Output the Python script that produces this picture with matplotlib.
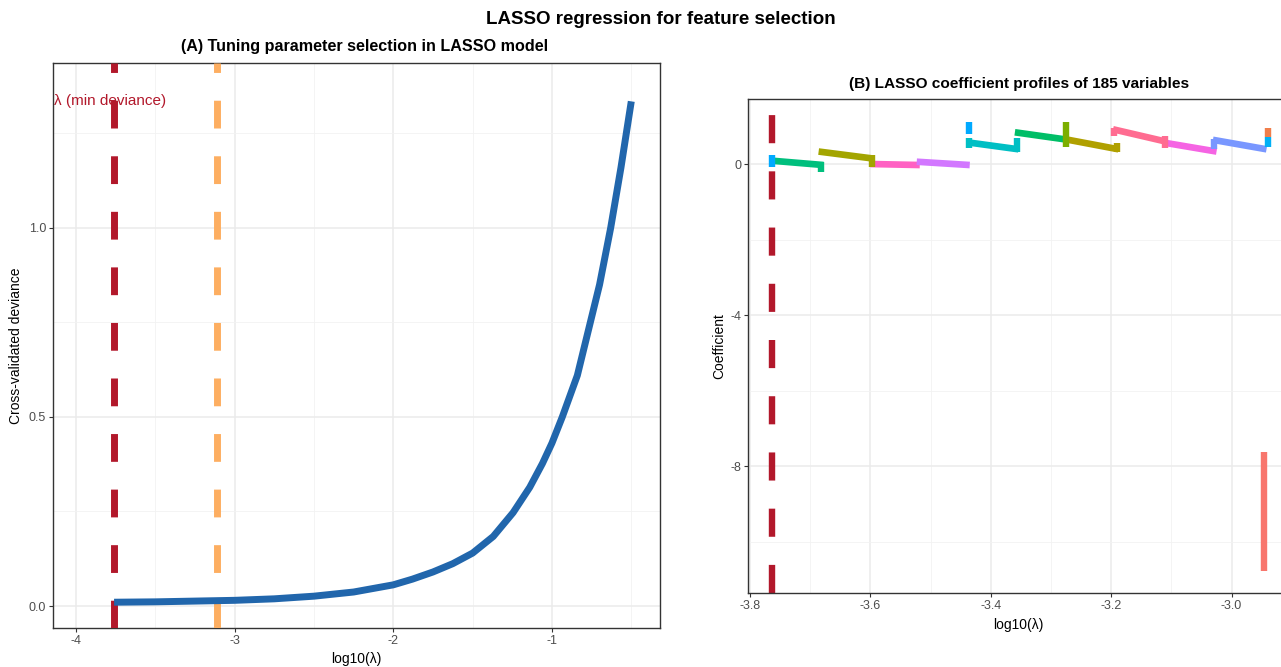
import matplotlib
matplotlib.use("Agg")
import matplotlib.pyplot as plt

plt.rcParams['font.family'] = ['Liberation Sans', 'DejaVu Sans']

W, H = 1281, 667

# ---------------- data ----------------
# Panel A: cross-validated deviance curve
cv_log_lambda = [-3.76, -3.5, -3.25, -3.0, -2.75, -2.5, -2.25, -2.0, -1.88, -1.75,
                 -1.625, -1.5, -1.37, -1.245, -1.14, -1.06, -1.0, -0.935, -0.84,
                 -0.77, -0.70, -0.63, -0.565, -0.5]
cv_deviance = [0.010, 0.011, 0.013, 0.015, 0.019, 0.026, 0.037, 0.056, 0.071, 0.090,
               0.112, 0.140, 0.184, 0.247, 0.314, 0.377, 0.431, 0.500, 0.610,
               0.730, 0.850, 1.000, 1.160, 1.335]
lambda_min_log = -3.763
lambda_1se_log = -3.11
label_min = "λ (min deviance)"

# Panel B: coefficient path pieces (sloped)
seg_x0 = [-3.764, -3.686, -3.600, -3.523, -3.437, -3.360, -3.271, -3.197, -3.114, -3.031]
seg_x1 = [-3.678, -3.598, -3.518, -3.435, -3.354, -3.271, -3.188, -3.108, -3.025, -2.942]
seg_y0 = [0.088, 0.33, 0.0, 0.06, 0.57, 0.84, 0.64, 0.92, 0.57, 0.64]
seg_y1 = [-0.027, 0.15, -0.027, -0.027, 0.39, 0.64, 0.39, 0.59, 0.33, 0.39]
seg_col = ['#00BF7D', '#A3A500', '#FF61C3', '#D277FF', '#00BFC4',
           '#00BE67', '#B0A000', '#FF6C91', '#F564E3', '#7997FF']

# Panel B: short vertical jumps
jump_x = [-3.764, -3.682, -3.598, -3.437, -3.437, -3.357, -3.275, -3.190,
          -3.195, -3.110, -3.029, -2.940, -2.940, -2.947]
jump_y0 = [0.24, 0.06, 0.24, 1.10, 0.68, 0.68, 1.12, 0.55, 0.95, 0.73, 0.65, 0.95, 0.71, -7.63]
jump_y1 = [-0.07, -0.20, -0.07, 0.80, 0.42, 0.33, 0.46, 0.33, 0.73, 0.42, 0.40, 0.71, 0.46, -10.78]
jump_col = ['#00A9FF', '#00BF7D', '#A3A500', '#00A9FF', '#00BFC4', '#00BFC4',
            '#7CAE00', '#B0A000', '#FF6C91', '#FF6C91', '#7997FF', '#F07E4B',
            '#00B0F6', '#F8766D']

a_xticks = [-4, -3, -2, -1]
a_xminor = [-3.5, -2.5, -1.5, -0.5]
a_yticks = [0.0, 0.5, 1.0]
a_yticklabels = ['0.0', '0.5', '1.0']
a_yminor = [0.25, 0.75, 1.25]

b_xticks = [-3.8, -3.6, -3.4, -3.2, -3.0]
b_xticklabels = ['-3.8', '-3.6', '-3.4', '-3.2', '-3.0']
b_xminor = [-3.7, -3.5, -3.3, -3.1, -2.9]
b_yticks = [0, -4, -8]
b_yticklabels = ['0', '-4', '-8']
b_yminor = [-2, -6, -10]

# ---------------- figure ----------------
fig = plt.figure(figsize=(W / 100, H / 100), dpi=100)
fig.patch.set_facecolor('white')


def px_axes(l, t, r, b):
    return fig.add_axes([l / W, 1 - b / H, (r - l) / W, (b - t) / H])


def style(ax, xt, xminor, yt, yminor):
    ax.set_facecolor('white')
    for s in ax.spines.values():
        s.set_color('#333333')
        s.set_linewidth(1.0)
    for v in xt:
        ax.axvline(v, color='#EBEBEB', lw=1.1, zorder=0)
    for v in xminor:
        ax.axvline(v, color='#F2F2F2', lw=0.6, zorder=0)
    for v in yt:
        ax.axhline(v, color='#EBEBEB', lw=1.1, zorder=0)
    for v in yminor:
        ax.axhline(v, color='#F2F2F2', lw=0.6, zorder=0)
    ax.tick_params(axis='both', colors='#333333', labelcolor='#4D4D4D',
                   labelsize=9, length=3, width=0.8, pad=2)


# Panel A
axA = px_axes(53, 63, 660, 628)
axA.set_xlim(-4.145, -0.319)
axA.set_ylim(-0.0582, 1.4365)
style(axA, a_xticks, a_xminor, a_yticks, a_yminor)
axA.set_xticks(a_xticks)
axA.set_xticklabels([str(v) for v in a_xticks])
axA.set_yticks(a_yticks)
axA.set_yticklabels(a_yticklabels)
axA.text(-3.785, 1.336, label_min, color='#B2182B', fontsize=11,
         ha='center', va='center', zorder=2, clip_on=True)
axA.axvline(lambda_min_log, color='#B2182B', lw=5, linestyle=(0, (4, 4)), zorder=3)
axA.axvline(lambda_1se_log, color='#FDAE61', lw=5, linestyle=(0, (4, 4)), zorder=3)
axA.plot(cv_log_lambda, cv_deviance, color='#2166AC', lw=5,
         solid_capstyle='butt', solid_joinstyle='round', zorder=4)
axA.set_xlabel('log10(λ)', fontsize=10, labelpad=4)
axA.set_ylabel('Cross-validated deviance', fontsize=10, labelpad=4)
fig.text(365 / W, 1 - 47 / H, '(A) Tuning parameter selection in LASSO model',
         fontsize=11.6, fontweight='bold', ha='center', va='center')

# Panel B
bl, br = 748, 1288
ppu = 602.0
axB = px_axes(bl, 99, br, 593)
axB.set_xlim(-3.8 - 2 / ppu, -3.8 + (br - 750) / ppu)
axB.set_ylim(-11.364, 1.722)
style(axB, b_xticks, b_xminor, b_yticks, b_yminor)
axB.set_xticks(b_xticks)
axB.set_xticklabels(b_xticklabels)
axB.set_yticks(b_yticks)
axB.set_yticklabels(b_yticklabels)
axB.axvline(lambda_min_log, color='#B2182B', lw=4.6, linestyle=(0, (4.4, 4.4)), zorder=2)
for x0, x1, y0, y1, c in zip(seg_x0, seg_x1, seg_y0, seg_y1, seg_col):
    axB.plot([x0, x1], [y0, y1], color=c, lw=4.8, solid_capstyle='butt', zorder=3)
for x, y0, y1, c in zip(jump_x, jump_y0, jump_y1, jump_col):
    axB.plot([x, x], [y0, y1], color=c, lw=4.6, solid_capstyle='butt', zorder=4)
axB.set_xlabel('log10(λ)', fontsize=10, labelpad=4)
axB.set_ylabel('Coefficient', fontsize=10, labelpad=3)
fig.text(1019 / W, 1 - 84 / H, '(B) LASSO coefficient profiles of 185 variables',
         fontsize=11.1, fontweight='bold', ha='center', va='center')

fig.text(0.5 * (1281 + 40) / W, 1 - 20 / H, 'LASSO regression for feature selection',
         fontsize=13.5, fontweight='bold', ha='center', va='center')

fig.savefig('out.png', dpi=100)
